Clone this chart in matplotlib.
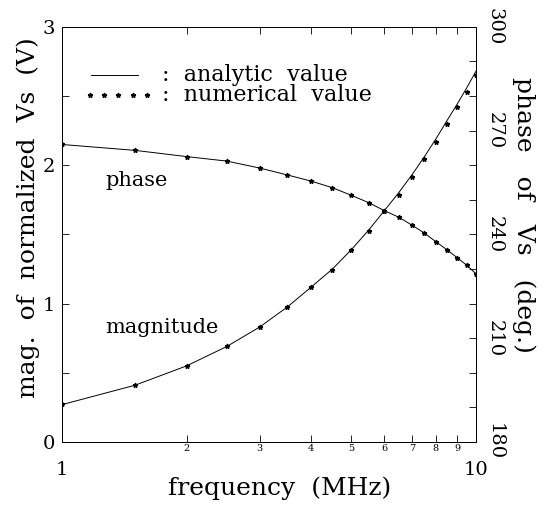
import matplotlib
matplotlib.use("Agg")
import matplotlib.pyplot as plt
from matplotlib.ticker import FixedLocator, FixedFormatter

FONT = 'DejaVu Serif'

freq = [1.0, 1.5, 2.0, 2.5, 3.0, 3.5, 4.0, 4.5, 5.0, 5.5, 6.0, 6.5, 7.0, 7.5, 8.0, 8.5, 9.0, 9.5, 10.0]
mag_analytic = [0.27, 0.41, 0.55, 0.69, 0.83, 0.975, 1.12, 1.25, 1.39, 1.53, 1.67, 1.80, 1.93, 2.06, 2.19, 2.32, 2.44, 2.56, 2.68]
mag_numeric = [0.275, 0.41, 0.55, 0.694, 0.828, 0.974, 1.117, 1.245, 1.386, 1.524, 1.666, 1.787, 1.916, 2.042, 2.17, 2.297, 2.418, 2.532, 2.649]
phase_analytic = [266.0, 264.3, 262.5, 261.2, 259.2, 257.2, 255.4, 253.5, 251.3, 249.2, 246.9, 245.0, 242.7, 240.4, 237.9, 235.6, 233.3, 231.1, 228.6]
phase_numeric = [266.0, 264.3, 262.5, 261.2, 259.2, 257.2, 255.4, 253.5, 251.3, 249.2, 246.9, 245.0, 242.7, 240.4, 237.9, 235.6, 233.3, 231.1, 228.6]

x_major = [1, 10]
x_major_labels = ['1', '10']
x_minor = [2, 3, 4, 5, 6, 7, 8, 9]
x_minor_labels = ['2', '3', '4', '5', '6', '7', '8', '9']
y_left_major = [0, 1, 2, 3]
y_left_minor = [0.5, 1.5, 2.5]
y_right_major = [180, 210, 240, 270, 300]
y_right_minor = [190, 200, 220, 230, 250, 260, 280, 290]

fig = plt.figure(figsize=(5.44, 5.05), dpi=100)
ax = fig.add_axes([0.114, 0.1248, 0.761, 0.822])
ax2 = ax.twinx()

lw = 0.7
ax.plot(freq, mag_analytic, '-', color='black', lw=lw)
ax.plot(freq, mag_numeric, linestyle='none', marker='*', ms=3.5, color='black')
ax2.plot(freq, phase_analytic, '-', color='black', lw=lw)
ax2.plot(freq, phase_numeric, linestyle='none', marker='*', ms=3.5, color='black')

ax.set_xscale('log')
ax.set_xlim(1, 10)
ax.set_ylim(0, 3)
ax2.set_ylim(180, 300)

ax.xaxis.set_major_locator(FixedLocator(x_major))
ax.xaxis.set_major_formatter(FixedFormatter(x_major_labels))
ax.xaxis.set_minor_locator(FixedLocator(x_minor))
ax.xaxis.set_minor_formatter(FixedFormatter(x_minor_labels))
ax.yaxis.set_major_locator(FixedLocator(y_left_major))
ax.yaxis.set_minor_locator(FixedLocator(y_left_minor))
ax2.yaxis.set_major_locator(FixedLocator(y_right_major))
ax2.yaxis.set_minor_locator(FixedLocator(y_right_minor))

ax.tick_params(axis='x', which='major', direction='in', length=0, pad=14, labelsize=14, top=False)
ax.tick_params(axis='x', which='minor', direction='in', length=5, width=0.6, pad=1.5, labelsize=7, top=True)
ax.tick_params(axis='y', which='both', direction='in', length=5, width=0.6, pad=5, labelsize=14)
ax2.tick_params(axis='y', which='both', direction='in', length=5, width=0.6, pad=7, labelsize=14)
for lab in ax.get_xticklabels(which='both') + ax.get_yticklabels() + ax2.get_yticklabels():
    lab.set_family(FONT)
for lab in ax2.get_yticklabels():
    lab.set_rotation(-90)
    lab.set_va('center')

for a in (ax, ax2):
    for s in a.spines.values():
        s.set_linewidth(0.7)

ax.set_xlabel('frequency  (MHz)', family=FONT, fontsize=18, va='center')
ax.xaxis.set_label_coords(0.526, -0.111)
ax.set_ylabel('mag.  of  normalized  Vs  (V)', family=FONT, fontsize=18, va='center', ha='center')
ax.yaxis.set_label_coords(-0.082, 0.54)
ax2.set_ylabel('phase   of   Vs   (deg.)', family=FONT, fontsize=18, rotation=-90, va='center', ha='center')
ax2.yaxis.set_label_coords(1.116, 0.547)

ax.text(0.105, 0.63, 'phase', family=FONT, fontsize=15, va='center', ha='left', transform=ax.transAxes)
ax.text(0.105, 0.276, 'magnitude', family=FONT, fontsize=15, va='center', ha='left', transform=ax.transAxes)

# legend drawn by hand in axes coordinates
ax.plot([0.07, 0.184], [0.883, 0.883], '-', color='black', lw=lw, transform=ax.transAxes)
ax.plot([0.067, 0.102, 0.136, 0.171, 0.206], [0.835] * 5, linestyle='none', marker='*', ms=3.5, color='black', transform=ax.transAxes)
ax.text(0.241, 0.883, ':  analytic  value', family=FONT, fontsize=16, va='center', transform=ax.transAxes)
ax.text(0.241, 0.835, ':  numerical  value', family=FONT, fontsize=16, va='center', transform=ax.transAxes)

fig.savefig('out.png', dpi=100)
